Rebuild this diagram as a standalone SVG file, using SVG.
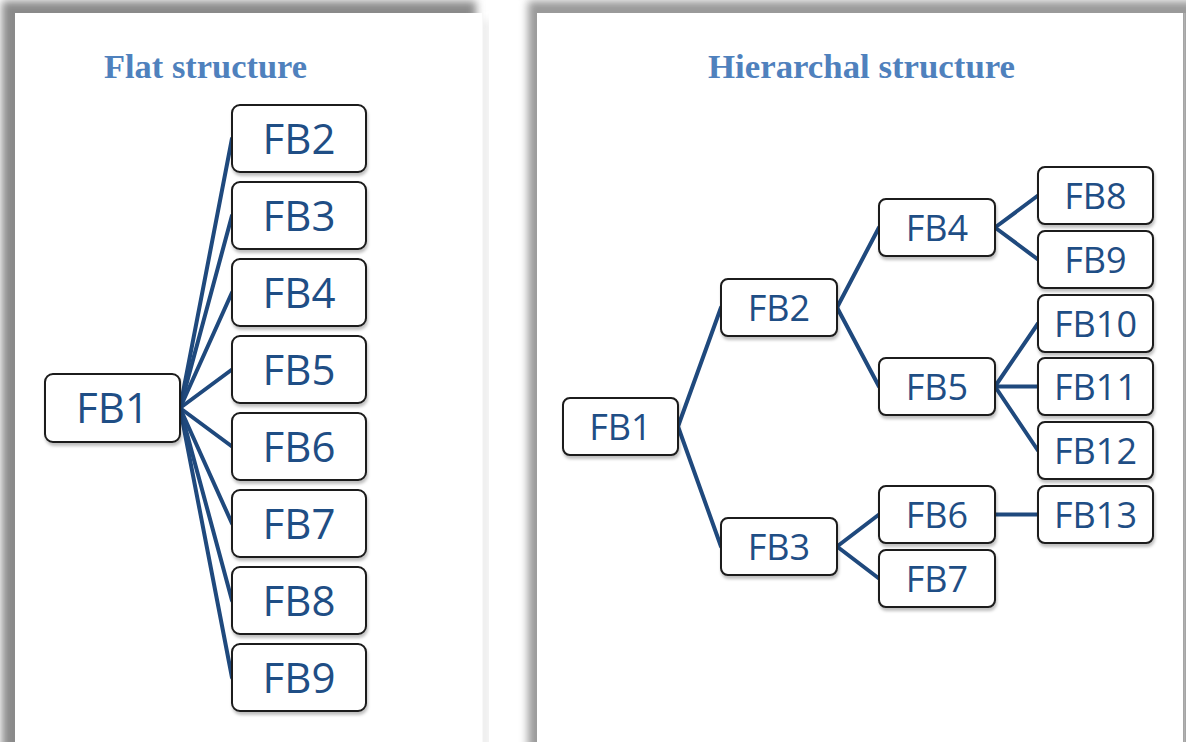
<svg xmlns="http://www.w3.org/2000/svg" width="1186" height="742" viewBox="0 0 1186 742">
  <style>
    .panel { fill: #ffffff; }
    .title { font-family: "Liberation Serif", "Times New Roman", serif; font-weight: bold; font-size: 33px; fill: #4F81BD; text-anchor: middle; }
    .box { fill: #ffffff; stroke: #1a1a1a; stroke-width: 2; filter: url(#boxShadow); }
    .lbl { font-family: "Open Sans", "Liberation Sans", sans-serif; fill: #1F4E85; text-anchor: middle; }
    .big { font-size: 42px; }
    .small { font-size: 36px; }
    .link { stroke: #1F497D; stroke-width: 4; fill: none; stroke-linecap: round; }
  </style>
  <defs>
    <filter id="panelShadow" x="-10%" y="-10%" width="120%" height="120%">
      <feGaussianBlur stdDeviation="4"/>
    </filter>
    <filter id="boxShadow" x="-10%" y="-10%" width="125%" height="135%">
      <feDropShadow dx="1" dy="3" stdDeviation="1.5" flood-color="#000000" flood-opacity="0.25"/>
    </filter>
  </defs>

  <rect width="1186" height="742" fill="#ffffff"/>

  <!-- page shadows -->
  <g id="shadows">
    <rect x="2" y="1" width="474" height="760" fill="#8a8a8a" filter="url(#panelShadow)"/>
    <rect x="484" y="20" width="4" height="740" fill="#d8d8d8" filter="url(#panelShadow)"/>
    <rect x="528" y="1" width="670" height="760" fill="#9a9a9a" filter="url(#panelShadow)"/>
  </g>

  <!-- pages -->
  <rect class="panel" x="15" y="13" width="467" height="740"/>
  <rect class="panel" x="537" y="13" width="646" height="740"/>
  <line x1="1184.5" y1="13" x2="1184.5" y2="742" stroke="#b0b0b0" stroke-width="2"/>

  <text class="title" x="205.5" y="78" textLength="203" lengthAdjust="spacingAndGlyphs">Flat structure</text>
  <text class="title" x="861.5" y="78" textLength="307" lengthAdjust="spacingAndGlyphs">Hierarchal structure</text>

  <!-- connectors -->
  <g id="connectors">
    <!-- flat -->
    <line class="link" x1="180" y1="408" x2="232" y2="138.5"/>
    <line class="link" x1="180" y1="408" x2="232" y2="215.5"/>
    <line class="link" x1="180" y1="408" x2="232" y2="292.5"/>
    <line class="link" x1="180" y1="408" x2="232" y2="369.5"/>
    <line class="link" x1="180" y1="408" x2="232" y2="446.5"/>
    <line class="link" x1="180" y1="408" x2="232" y2="523.5"/>
    <line class="link" x1="180" y1="408" x2="232" y2="600.5"/>
    <line class="link" x1="180" y1="408" x2="232" y2="677.5"/>
    <!-- hierarchical -->
    <line class="link" x1="678" y1="426.5" x2="721" y2="307.5"/>
    <line class="link" x1="678" y1="426.5" x2="721" y2="546.5"/>
    <line class="link" x1="837" y1="307.5" x2="879" y2="227.5"/>
    <line class="link" x1="837" y1="307.5" x2="879" y2="386.5"/>
    <line class="link" x1="995" y1="227.5" x2="1038" y2="195.5"/>
    <line class="link" x1="995" y1="227.5" x2="1038" y2="259.5"/>
    <line class="link" x1="995" y1="386.5" x2="1038" y2="323.5"/>
    <line class="link" x1="995" y1="386.5" x2="1038" y2="386.5"/>
    <line class="link" x1="995" y1="386.5" x2="1038" y2="450.5"/>
    <line class="link" x1="837" y1="546.5" x2="879" y2="514.5"/>
    <line class="link" x1="837" y1="546.5" x2="879" y2="578.5"/>
    <line class="link" x1="995" y1="514.5" x2="1038" y2="514.5"/>
  </g>

  <!-- flat structure nodes -->
  <g id="flat-FB1"><rect class="box" x="45" y="374" width="135" height="68" rx="8"/><text class="lbl big" x="112.5" y="423">FB1</text></g>
  <g id="flat-FB2"><rect class="box" x="232" y="105" width="134" height="67" rx="8"/><text class="lbl big" x="299" y="153.5">FB2</text></g>
  <g id="flat-FB3"><rect class="box" x="232" y="182" width="134" height="67" rx="8"/><text class="lbl big" x="299" y="230.5">FB3</text></g>
  <g id="flat-FB4"><rect class="box" x="232" y="259" width="134" height="67" rx="8"/><text class="lbl big" x="299" y="307.5">FB4</text></g>
  <g id="flat-FB5"><rect class="box" x="232" y="336" width="134" height="67" rx="8"/><text class="lbl big" x="299" y="384.5">FB5</text></g>
  <g id="flat-FB6"><rect class="box" x="232" y="413" width="134" height="67" rx="8"/><text class="lbl big" x="299" y="461.5">FB6</text></g>
  <g id="flat-FB7"><rect class="box" x="232" y="490" width="134" height="67" rx="8"/><text class="lbl big" x="299" y="538.5">FB7</text></g>
  <g id="flat-FB8"><rect class="box" x="232" y="567" width="134" height="67" rx="8"/><text class="lbl big" x="299" y="615.5">FB8</text></g>
  <g id="flat-FB9"><rect class="box" x="232" y="644" width="134" height="67" rx="8"/><text class="lbl big" x="299" y="692.5">FB9</text></g>

  <!-- hierarchical structure nodes -->
  <g id="tree-FB1"><rect class="box" x="563" y="398" width="115" height="57" rx="7"/><text class="lbl small" x="620.5" y="439.5">FB1</text></g>
  <g id="tree-FB2"><rect class="box" x="721" y="279" width="116" height="57" rx="7"/><text class="lbl small" x="779" y="320.5">FB2</text></g>
  <g id="tree-FB3"><rect class="box" x="721" y="518" width="116" height="57" rx="7"/><text class="lbl small" x="779" y="559.5">FB3</text></g>
  <g id="tree-FB4"><rect class="box" x="879" y="199" width="116" height="57" rx="7"/><text class="lbl small" x="937" y="240.5">FB4</text></g>
  <g id="tree-FB5"><rect class="box" x="879" y="358" width="116" height="57" rx="7"/><text class="lbl small" x="937" y="399.5">FB5</text></g>
  <g id="tree-FB6"><rect class="box" x="879" y="486" width="116" height="57" rx="7"/><text class="lbl small" x="937" y="527.5">FB6</text></g>
  <g id="tree-FB7"><rect class="box" x="879" y="550" width="116" height="57" rx="7"/><text class="lbl small" x="937" y="591.5">FB7</text></g>
  <g id="tree-FB8"><rect class="box" x="1038" y="167" width="115" height="57" rx="7"/><text class="lbl small" x="1095.5" y="208.5">FB8</text></g>
  <g id="tree-FB9"><rect class="box" x="1038" y="231" width="115" height="57" rx="7"/><text class="lbl small" x="1095.5" y="272.5">FB9</text></g>
  <g id="tree-FB10"><rect class="box" x="1038" y="295" width="115" height="57" rx="7"/><text class="lbl small" x="1095.5" y="336.5">FB10</text></g>
  <g id="tree-FB11"><rect class="box" x="1038" y="358" width="115" height="57" rx="7"/><text class="lbl small" x="1095.5" y="399.5">FB11</text></g>
  <g id="tree-FB12"><rect class="box" x="1038" y="422" width="115" height="57" rx="7"/><text class="lbl small" x="1095.5" y="463.5">FB12</text></g>
  <g id="tree-FB13"><rect class="box" x="1038" y="486" width="115" height="57" rx="7"/><text class="lbl small" x="1095.5" y="527.5">FB13</text></g>
</svg>
